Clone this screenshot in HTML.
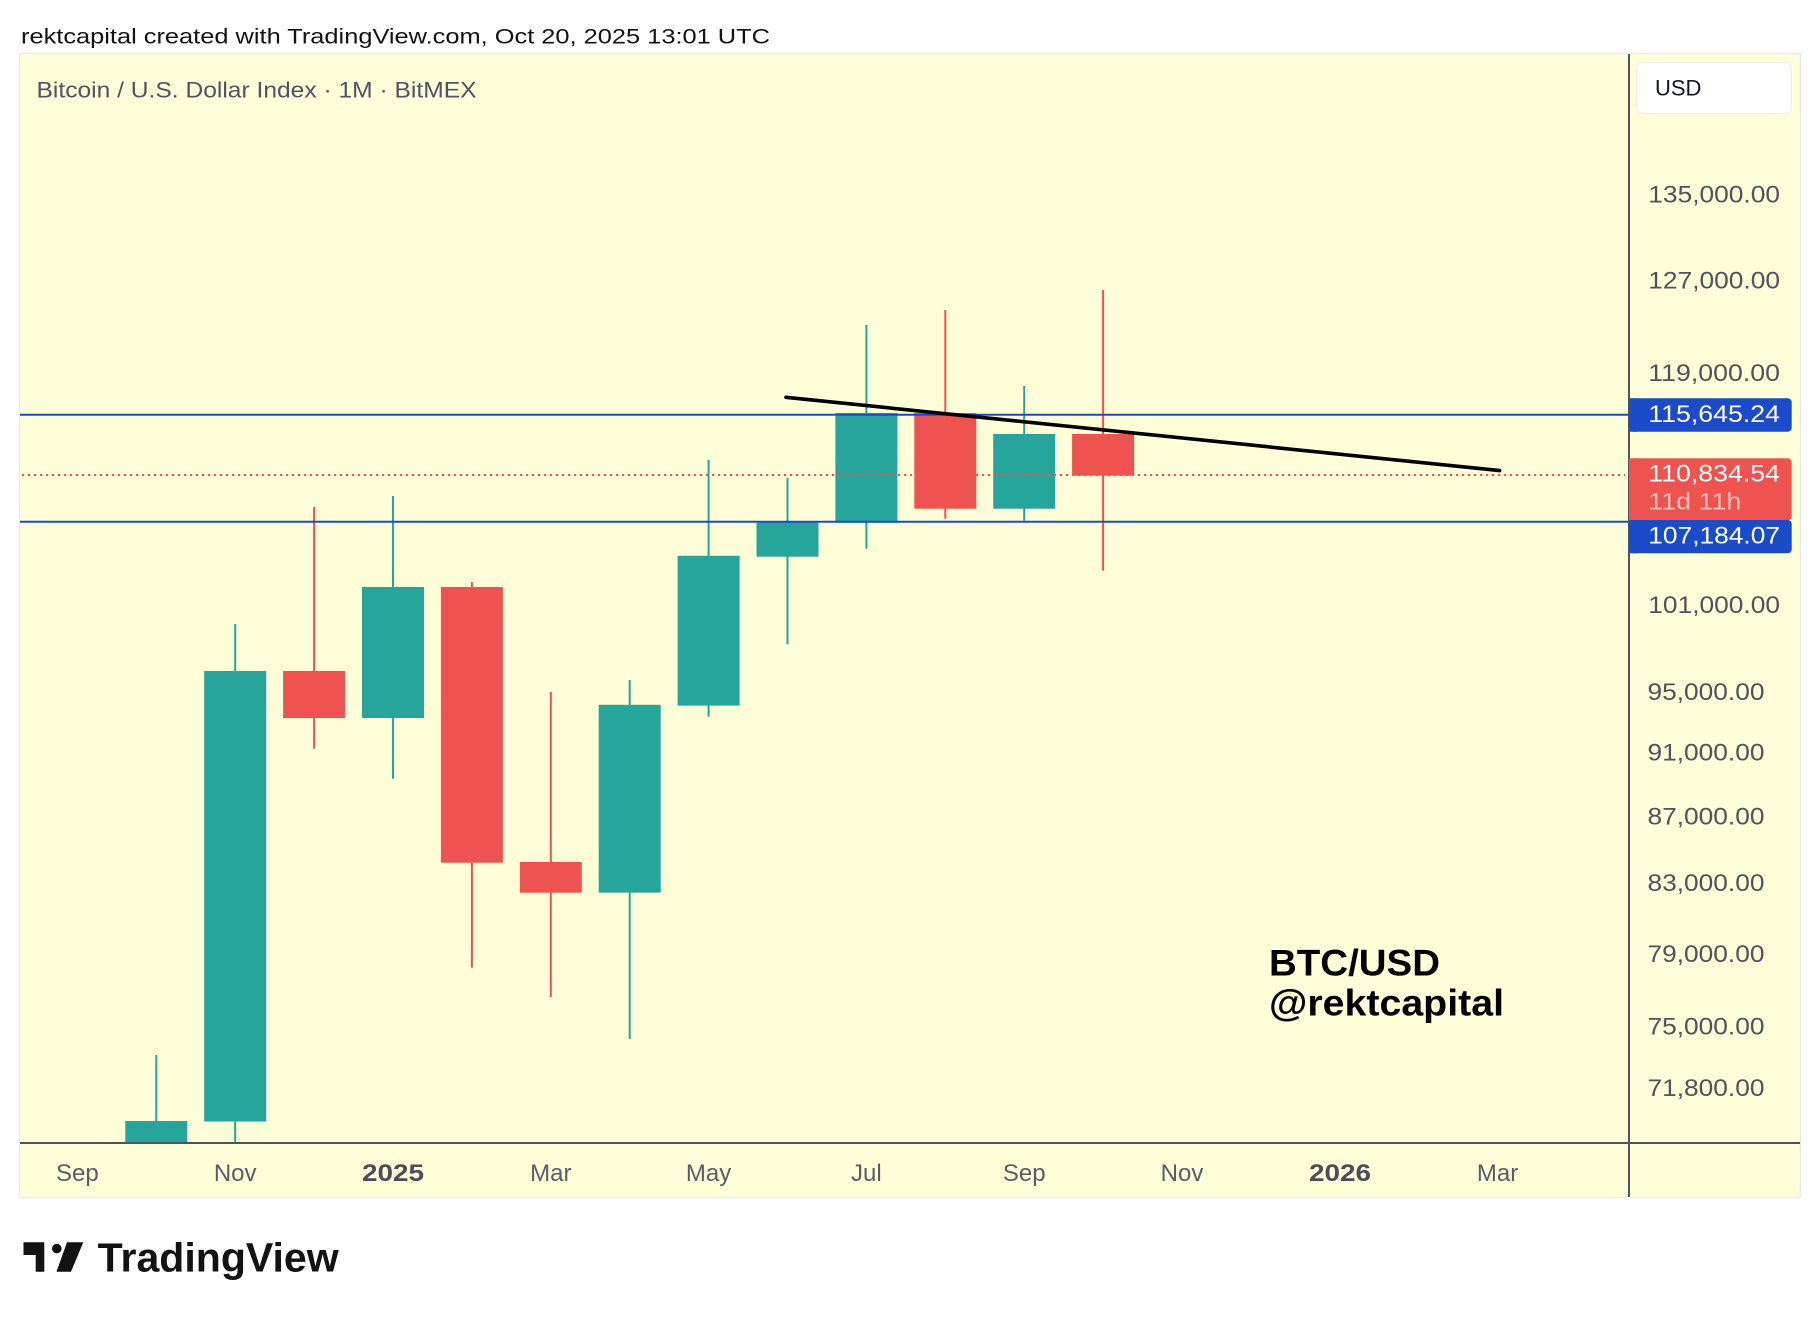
<!DOCTYPE html>
<html>
<head>
<meta charset="utf-8">
<style>
  html, body { margin: 0; padding: 0; background: #ffffff; }
  body { width: 1820px; height: 1318px; overflow: hidden; }
  svg { display: block; }
  text { font-family: "Liberation Sans", "DejaVu Sans", sans-serif; }
</style>
</head>
<body>
<svg width="1820" height="1318" viewBox="0 0 1820 1318" xmlns="http://www.w3.org/2000/svg">
  <rect x="0" y="0" width="1820" height="1318" fill="#ffffff"/>

  <!-- header -->
  <text x="21" y="43.5" font-size="21.5" fill="#131313" textLength="749" lengthAdjust="spacingAndGlyphs">rektcapital created with TradingView.com, Oct 20, 2025 13:01 UTC</text>

  <!-- panel -->
  <rect x="19.5" y="53.5" width="1781" height="1144" fill="#fefed8" stroke="#ececec" stroke-width="1.5"/>

  <!-- legend -->
  <text x="36.5" y="97.5" font-size="22" fill="#4f5462" textLength="440" lengthAdjust="spacingAndGlyphs">Bitcoin / U.S. Dollar Index · 1M · BitMEX</text>

  <defs>
    <clipPath id="plot">
      <rect x="20" y="54" width="1609" height="1088"/>
    </clipPath>
  </defs>

  <!-- candles -->
  <g clip-path="url(#plot)">
    <!-- Oct 2024 -->
    <rect x="155.3" y="1055" width="2" height="90" fill="#26a69a"/>
    <rect x="125.3" y="1121" width="62" height="24" fill="#26a69a"/>
    <!-- Nov -->
    <rect x="234.2" y="624" width="2" height="521" fill="#26a69a"/>
    <rect x="204.2" y="671" width="62" height="450.5" fill="#26a69a"/>
    <!-- Dec -->
    <rect x="313.1" y="507" width="2" height="241.7" fill="#ef5350"/>
    <rect x="283.1" y="671" width="62" height="47" fill="#ef5350"/>
    <!-- Jan -->
    <rect x="392.0" y="496" width="2" height="282.7" fill="#26a69a"/>
    <rect x="362.0" y="587" width="62" height="131" fill="#26a69a"/>
    <!-- Feb -->
    <rect x="470.9" y="582" width="2" height="385.7" fill="#ef5350"/>
    <rect x="440.9" y="587" width="62" height="275.7" fill="#ef5350"/>
    <!-- Mar -->
    <rect x="549.8" y="692" width="2" height="305" fill="#ef5350"/>
    <rect x="519.8" y="862" width="62" height="30.7" fill="#ef5350"/>
    <!-- Apr -->
    <rect x="628.7" y="680" width="2" height="358.8" fill="#26a69a"/>
    <rect x="598.7" y="704.8" width="62" height="187.8" fill="#26a69a"/>
    <!-- May -->
    <rect x="707.6" y="460" width="2" height="256.7" fill="#26a69a"/>
    <rect x="677.6" y="555.8" width="62" height="149.8" fill="#26a69a"/>
    <!-- Jun -->
    <rect x="786.5" y="478" width="2" height="166.3" fill="#26a69a"/>
    <rect x="756.5" y="521.7" width="62" height="35" fill="#26a69a"/>
    <!-- Jul -->
    <rect x="865.4" y="325" width="2" height="223.7" fill="#26a69a"/>
    <rect x="835.4" y="413" width="62" height="109.7" fill="#26a69a"/>
    <!-- Aug -->
    <rect x="944.3" y="310" width="2" height="208.7" fill="#ef5350"/>
    <rect x="914.3" y="413" width="62" height="95.7" fill="#ef5350"/>
    <!-- Sep -->
    <rect x="1023.2" y="386" width="2" height="134.7" fill="#26a69a"/>
    <rect x="993.2" y="434" width="62" height="74.7" fill="#26a69a"/>
    <!-- Oct 2025 -->
    <rect x="1102.1" y="290" width="2" height="280.7" fill="#ef5350"/>
    <rect x="1072.1" y="434" width="62" height="41.7" fill="#ef5350"/>
  </g>

  <!-- horizontal levels -->
  <line x1="20" y1="414.7" x2="1629" y2="414.7" stroke="#1a4bcb" stroke-width="2"/>
  <line x1="20" y1="521.7" x2="1629" y2="521.7" stroke="#1a4bcb" stroke-width="2"/>
  <line x1="22" y1="475" x2="1625" y2="475" stroke="#ef5350" stroke-width="2" stroke-dasharray="2.2 3.8"/>

  <!-- trendline -->
  <line x1="786" y1="397.3" x2="1499.6" y2="470.6" stroke="#000000" stroke-width="3.6" stroke-linecap="round"/>

  <!-- watermark text -->
  <text x="1269" y="975.5" font-size="37" font-weight="bold" fill="#000000" textLength="171" lengthAdjust="spacingAndGlyphs">BTC/USD</text>
  <text x="1269" y="1015.5" font-size="37" font-weight="bold" fill="#000000" textLength="235" lengthAdjust="spacingAndGlyphs">@rektcapital</text>

  <!-- axes lines -->
  <line x1="1629" y1="54" x2="1629" y2="1197" stroke="#50535e" stroke-width="2"/>
  <line x1="20" y1="1143" x2="1800" y2="1143" stroke="#50535e" stroke-width="2"/>

  <!-- USD box -->
  <rect x="1636.5" y="62.5" width="155" height="51" rx="7" fill="#ffffff" stroke="#eeeeea" stroke-width="1"/>
  <text x="1655" y="95.5" font-size="22" fill="#131722">USD</text>

  <!-- price ticks -->
  <g font-size="24" fill="#4f535e">
    <text x="1648.3" y="202.5" textLength="131.7" lengthAdjust="spacingAndGlyphs">135,000.00</text>
    <text x="1648.3" y="288.3" textLength="131.7" lengthAdjust="spacingAndGlyphs">127,000.00</text>
    <text x="1648.3" y="381" textLength="131.7" lengthAdjust="spacingAndGlyphs">119,000.00</text>
    <text x="1648.3" y="613" textLength="131.7" lengthAdjust="spacingAndGlyphs">101,000.00</text>
    <text x="1647.5" y="700.2" textLength="117" lengthAdjust="spacingAndGlyphs">95,000.00</text>
    <text x="1647.5" y="760.7" textLength="117" lengthAdjust="spacingAndGlyphs">91,000.00</text>
    <text x="1647.5" y="824.7" textLength="117" lengthAdjust="spacingAndGlyphs">87,000.00</text>
    <text x="1647.5" y="890.9" textLength="117" lengthAdjust="spacingAndGlyphs">83,000.00</text>
    <text x="1647.5" y="962" textLength="117" lengthAdjust="spacingAndGlyphs">79,000.00</text>
    <text x="1647.5" y="1034.5" textLength="117" lengthAdjust="spacingAndGlyphs">75,000.00</text>
    <text x="1647.5" y="1096.2" textLength="117" lengthAdjust="spacingAndGlyphs">71,800.00</text>
  </g>

  <!-- price label boxes -->
  <rect x="1629" y="398.3" width="162.7" height="33.4" rx="4" fill="#1a4bcb"/>
  <rect x="1629" y="398.3" width="8" height="33.4" fill="#1a4bcb"/>
  <text x="1648.3" y="422" font-size="24" fill="#ffffff" textLength="131.7" lengthAdjust="spacingAndGlyphs">115,645.24</text>

  <rect x="1629" y="458.3" width="162.7" height="62" rx="4" fill="#ef5350"/>
  <rect x="1629" y="458.3" width="8" height="62" fill="#ef5350"/>
  <text x="1648.3" y="481.4" font-size="24" fill="#ffffff" textLength="131.7" lengthAdjust="spacingAndGlyphs">110,834.54</text>
  <text x="1648.3" y="509.7" font-size="24" fill="#f9bfbd" textLength="93" lengthAdjust="spacingAndGlyphs">11d 11h</text>

  <rect x="1629" y="520" width="162.7" height="33.3" rx="4" fill="#1a4bcb"/>
  <rect x="1629" y="520" width="8" height="33.3" fill="#1a4bcb"/>
  <text x="1648.3" y="543.5" font-size="24" fill="#ffffff" textLength="131.7" lengthAdjust="spacingAndGlyphs">107,184.07</text>

  <!-- time axis labels -->
  <g font-size="24" fill="#5a5d68" text-anchor="middle">
    <text x="77.4" y="1181">Sep</text>
    <text x="235.2" y="1181">Nov</text>
    <text x="550.8" y="1181">Mar</text>
    <text x="708.6" y="1181">May</text>
    <text x="866.4" y="1181">Jul</text>
    <text x="1024.2" y="1181">Sep</text>
    <text x="1182" y="1181">Nov</text>
    <text x="1497.6" y="1181">Mar</text>
  </g>
  <g font-size="24" font-weight="bold" fill="#4a4e59">
    <text x="362" y="1181" textLength="62" lengthAdjust="spacingAndGlyphs">2025</text>
    <text x="1309" y="1181" textLength="62" lengthAdjust="spacingAndGlyphs">2026</text>
  </g>

  <!-- TradingView logo -->
  <g fill="#131313">
    <path d="M23.5 1242.3 H44.3 V1271.7 H35.7 V1255 H23.5 Z"/>
    <circle cx="56.8" cy="1248.6" r="4.8"/>
    <path d="M67 1242.3 H83.3 L71 1271.7 H56.5 Z"/>
  </g>
  <text x="97.7" y="1271.7" font-size="41" font-weight="bold" fill="#131313" textLength="241" lengthAdjust="spacingAndGlyphs">TradingView</text>
</svg>
</body>
</html>
